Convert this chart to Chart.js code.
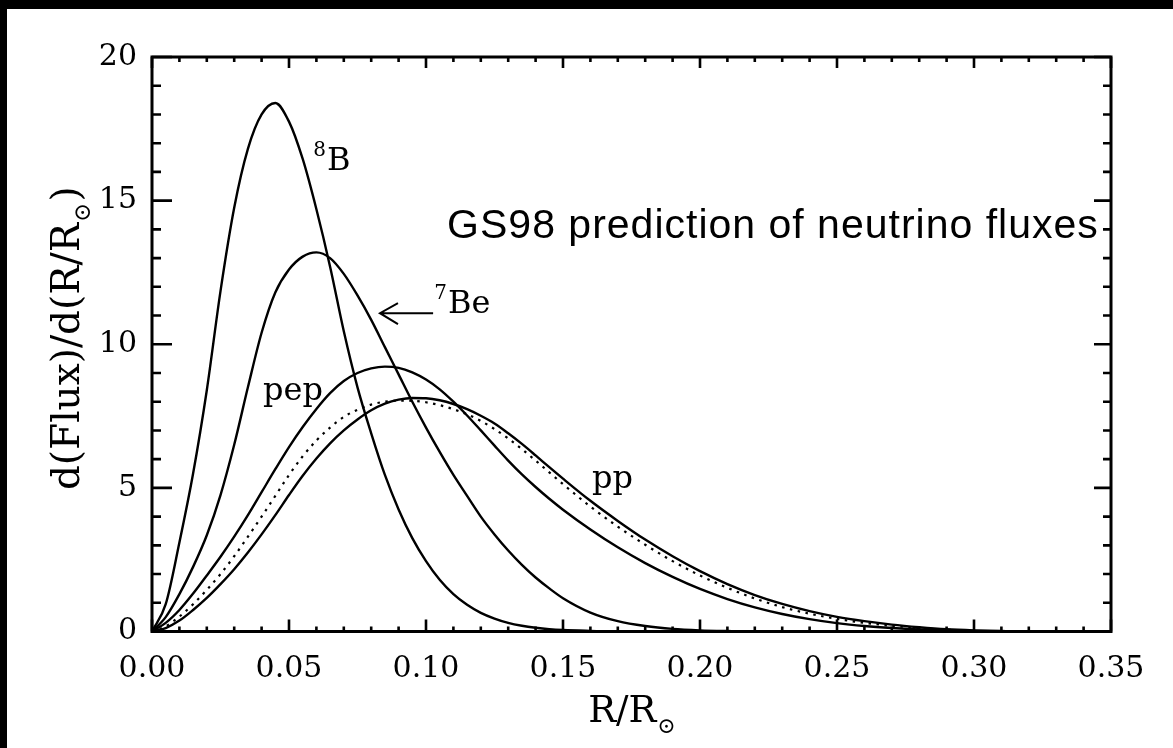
<!DOCTYPE html>
<html lang="en">
<head>
  <meta charset="UTF-8" />
  <title>GS98 neutrino flux profiles</title>
  <style>
    html, body { margin: 0; padding: 0; background: #000; }
    #frame { position: absolute; left: 7px; top: 9px; width: 1166px; height: 739px; background: #fff; }
  </style>
</head>
<body>
  <div id="frame"><canvas id="fluxChart"></canvas></div>

  <script src="https://cdn.jsdelivr.net/npm/chart.js"></script>
  <script>
    // R/Rsun sample points
    const radius = [
      0, 0.005, 0.01, 0.015, 0.02, 0.025, 0.03, 0.035, 0.04, 0.045,
      0.05, 0.055, 0.06, 0.065, 0.07, 0.075, 0.08, 0.085, 0.09, 0.095,
      0.10, 0.105, 0.11, 0.115, 0.12, 0.125, 0.13, 0.135, 0.14, 0.145,
      0.15, 0.16, 0.17, 0.18, 0.19, 0.20, 0.21, 0.22, 0.23, 0.24,
      0.25, 0.26, 0.27, 0.28, 0.29, 0.30, 0.31, 0.32, 0.33, 0.34, 0.35
    ];

    // d(Flux)/d(R/Rsun)
    const boron8 = [
      0, 0.95, 3.1, 5.5, 8.4, 11.85, 14.75, 16.8, 18.0, 18.4,
      17.75, 16.45, 14.7, 12.7, 10.45, 8.5, 6.9, 5.45, 4.25, 3.25,
      2.45, 1.8, 1.3, 0.93, 0.65, 0.45, 0.3, 0.2, 0.13, 0.08,
      0.05, 0.02, 0, 0, 0, 0, 0, 0, 0, 0,
      0, 0, 0, 0, 0, 0, 0, 0, 0, 0, 0
    ];
    const beryllium7 = [
      0, 0.5, 1.3, 2.25, 3.35, 4.75, 6.5, 8.5, 10.4, 11.8,
      12.6, 13.05, 13.2, 13.0, 12.45, 11.7, 10.85, 9.9, 8.95, 8.0,
      7.1, 6.25, 5.45, 4.72, 4.0, 3.38, 2.82, 2.32, 1.88, 1.5,
      1.16, 0.66, 0.36, 0.19, 0.09, 0.04, 0.015, 0, 0, 0,
      0, 0, 0, 0, 0, 0, 0, 0, 0, 0, 0
    ];
    const pep = [
      0, 0.3, 0.75, 1.32, 1.95, 2.6, 3.3, 4.05, 4.85, 5.65,
      6.42, 7.12, 7.75, 8.3, 8.72, 9.0, 9.16, 9.22, 9.18, 9.02,
      8.77, 8.43, 8.0, 7.52, 7.0, 6.47, 5.95, 5.47, 5.03, 4.62,
      4.24, 3.55, 2.93, 2.38, 1.9, 1.48, 1.13, 0.84, 0.61, 0.43,
      0.29, 0.19, 0.12, 0.07, 0.04, 0.02, 0.01, 0, 0, 0, 0
    ];
    const pp = [
      0, 0.12, 0.38, 0.75, 1.17, 1.65, 2.17, 2.75, 3.38, 4.05,
      4.75, 5.42, 6.02, 6.55, 7.0, 7.38, 7.7, 7.93, 8.07, 8.13,
      8.12, 8.05, 7.92, 7.74, 7.51, 7.24, 6.9, 6.53, 6.13, 5.72,
      5.32, 4.55, 3.85, 3.2, 2.62, 2.1, 1.65, 1.27, 0.96, 0.71,
      0.51, 0.36, 0.24, 0.15, 0.08, 0.04, 0.015, 0, 0, 0, 0
    ];
    // dotted curve
    const ppDotted = [
      0, 0.18, 0.52, 0.95, 1.45, 2.0, 2.62, 3.3, 4.0, 4.72,
      5.45, 6.1, 6.65, 7.1, 7.47, 7.72, 7.9, 8.0, 8.04, 8.03,
      7.98, 7.88, 7.74, 7.56, 7.33, 7.05, 6.72, 6.35, 5.95, 5.54,
      5.13, 4.35, 3.65, 3.02, 2.45, 1.95, 1.52, 1.15, 0.85, 0.62,
      0.44, 0.3, 0.2, 0.12, 0.06, 0.025, 0, 0, 0, 0, 0
    ];

    // axis ranges and tick spacing
    const xRange = [0, 0.35];
    const yRange = [0, 20];
    const xMajor = 0.05, xMinor = 0.01;
    const yMajor = 5, yMinor = 1;

    // curve labels, anchored in data units (left end of the baseline)
    const curveLabels = [
      { sup: '8', text: 'B', r: 0.0639, v: 16.05 },
      { sup: '7', text: 'Be', r: 0.108, v: 11.08 },
      { sup: '', text: 'pep', r: 0.0405, v: 8.05 },
      { sup: '', text: 'pp', r: 0.1606, v: 4.99 }
    ];
    const arrow = { from: 0.1026, to: 0.0832, v: 11.08 };
    const note = { text: 'GS98 prediction of neutrino fluxes', r: 0.1077, v: 13.69 };

    const SERIF = '"DejaVu Serif", serif';

    function points(values) {
      return radius.map((r, i) => ({ x: r, y: values[i] }));
    }

    const solid = {
      borderColor: '#000', borderWidth: 2.4, pointRadius: 0,
      cubicInterpolationMode: 'monotone', fill: false
    };

    // box, inward ticks on all four sides
    const frameTicks = {
      id: 'frameTicks',
      afterDatasetsDraw(chart) {
        const { ctx, chartArea: a, scales: { x, y } } = chart;
        ctx.save();
        ctx.strokeStyle = '#000';
        ctx.lineWidth = 2.6;
        ctx.beginPath();
        const nx = Math.round((xRange[1] - xRange[0]) / xMinor);
        for (let i = 0; i <= nx; i++) {
          const px = x.getPixelForValue(xRange[0] + i * xMinor);
          const big = i % Math.round(xMajor / xMinor) === 0;
          ctx.moveTo(px, a.bottom); ctx.lineTo(px, a.bottom - (big ? 12 : 5));
          ctx.moveTo(px, a.top); ctx.lineTo(px, a.top + (big ? 11 : 5));
        }
        const ny = Math.round((yRange[1] - yRange[0]) / yMinor);
        for (let j = 0; j <= ny; j++) {
          const py = y.getPixelForValue(yRange[0] + j * yMinor);
          const big = j % Math.round(yMajor / yMinor) === 0;
          ctx.moveTo(a.left, py); ctx.lineTo(a.left + (big ? 20 : 9), py);
          ctx.moveTo(a.right, py); ctx.lineTo(a.right - (big ? 17 : 8), py);
        }
        ctx.stroke();
        ctx.lineWidth = 3;
        ctx.strokeRect(a.left, a.top, a.right - a.left, a.bottom - a.top);
        ctx.restore();
      }
    };

    // axis titles with the solar subscript, curve labels, arrow, note
    const textLayer = {
      id: 'textLayer',
      afterDraw(chart) {
        const { ctx, chartArea: a, scales: { x, y } } = chart;
        ctx.save();
        ctx.fillStyle = '#000';
        ctx.strokeStyle = '#000';
        ctx.textBaseline = 'alphabetic';
        ctx.textAlign = 'left';

        // x title
        let mainFont = '37px ' + SERIF, subFont = '22px ' + SERIF;
        ctx.font = mainFont;
        const wR = ctx.measureText('R/R').width;
        ctx.font = subFont;
        let wSun = ctx.measureText('⊙').width;
        const sx = (a.left + a.right) / 2 - (wR + wSun) / 2;
        const by = a.bottom + 90;
        ctx.font = mainFont; ctx.fillText('R/R', sx, by);
        ctx.font = subFont; ctx.fillText('⊙', sx + wR + 1, by + 11);

        // y title, rotated
        mainFont = '39px ' + SERIF; subFont = '23px ' + SERIF;
        const head = 'd(Flux)/d(R/R';
        ctx.font = subFont;
        wSun = ctx.measureText('⊙').width;
        ctx.font = mainFont;
        const wHead = ctx.measureText(head).width;
        const wClose = ctx.measureText(')').width;
        const total = wHead + wSun + 2 + wClose;
        ctx.save();
        ctx.translate(a.left - 73, (a.top + a.bottom) / 2 - 6);
        ctx.rotate(-Math.PI / 2);
        const tx = -total / 2;
        ctx.fillText(head, tx, 0);
        ctx.font = subFont; ctx.fillText('⊙', tx + wHead + 1, 11);
        ctx.font = mainFont; ctx.fillText(')', tx + wHead + wSun + 2, 0);
        ctx.restore();

        // curve labels
        curveLabels.forEach(l => {
          const px = x.getPixelForValue(l.r), py = y.getPixelForValue(l.v);
          if (l.sup) {
            ctx.font = '20px ' + SERIF;
            const w = ctx.measureText(l.sup).width;
            ctx.fillText(l.sup, px - w - 1, py - 14);
          }
          ctx.font = '32px ' + SERIF;
          ctx.fillText(l.text, px, py);
        });

        // arrow towards the 7Be curve
        const ax0 = x.getPixelForValue(arrow.from), ax1 = x.getPixelForValue(arrow.to);
        const ay = y.getPixelForValue(arrow.v);
        ctx.lineWidth = 2;
        ctx.beginPath();
        ctx.moveTo(ax0, ay); ctx.lineTo(ax1, ay);
        ctx.moveTo(ax1 + 18, ay - 10); ctx.lineTo(ax1, ay); ctx.lineTo(ax1 + 18, ay + 11);
        ctx.stroke();

        // note
        ctx.font = '41px "Liberation Sans", Arial, sans-serif';
        ctx.letterSpacing = '1px';
        ctx.fillText(note.text, x.getPixelForValue(note.r), y.getPixelForValue(note.v));
        ctx.restore();
      }
    };

    new Chart(document.getElementById('fluxChart'), {
      type: 'line',
      data: {
        datasets: [
          { label: '8B', data: points(boron8), ...solid },
          { label: '7Be', data: points(beryllium7), ...solid },
          { label: 'pep', data: points(pep), ...solid },
          { label: 'pp', data: points(pp), ...solid },
          { label: 'pp (dotted)', data: points(ppDotted), ...solid, borderWidth: 2.2, borderDash: [2.5, 5.5] }
        ]
      },
      options: {
        responsive: true,
        maintainAspectRatio: false,
        animation: false,
        layout: { padding: { top: 48, right: 62, left: 0, bottom: 0 } },
        plugins: { legend: { display: false }, tooltip: { enabled: false }, title: { display: false } },
        scales: {
          x: {
            type: 'linear', min: xRange[0], max: xRange[1],
            grid: { display: false, drawTicks: false },
            border: { display: false },
            ticks: {
              stepSize: xMajor, autoSkip: false, maxRotation: 0, padding: 20, color: '#000',
              font: { family: SERIF, size: 30 },
              callback: v => v.toFixed(2)
            },
            afterFit: s => { s.height = 116.5; }
          },
          y: {
            min: yRange[0], max: yRange[1],
            grid: { display: false, drawTicks: false },
            border: { display: false },
            ticks: {
              stepSize: yMajor, padding: 15, color: '#000',
              font: { family: SERIF, size: 30 }
            },
            afterFit: s => { s.width = 145; }
          }
        }
      },
      plugins: [frameTicks, textLayer]
    });
  </script>
</body>
</html>
